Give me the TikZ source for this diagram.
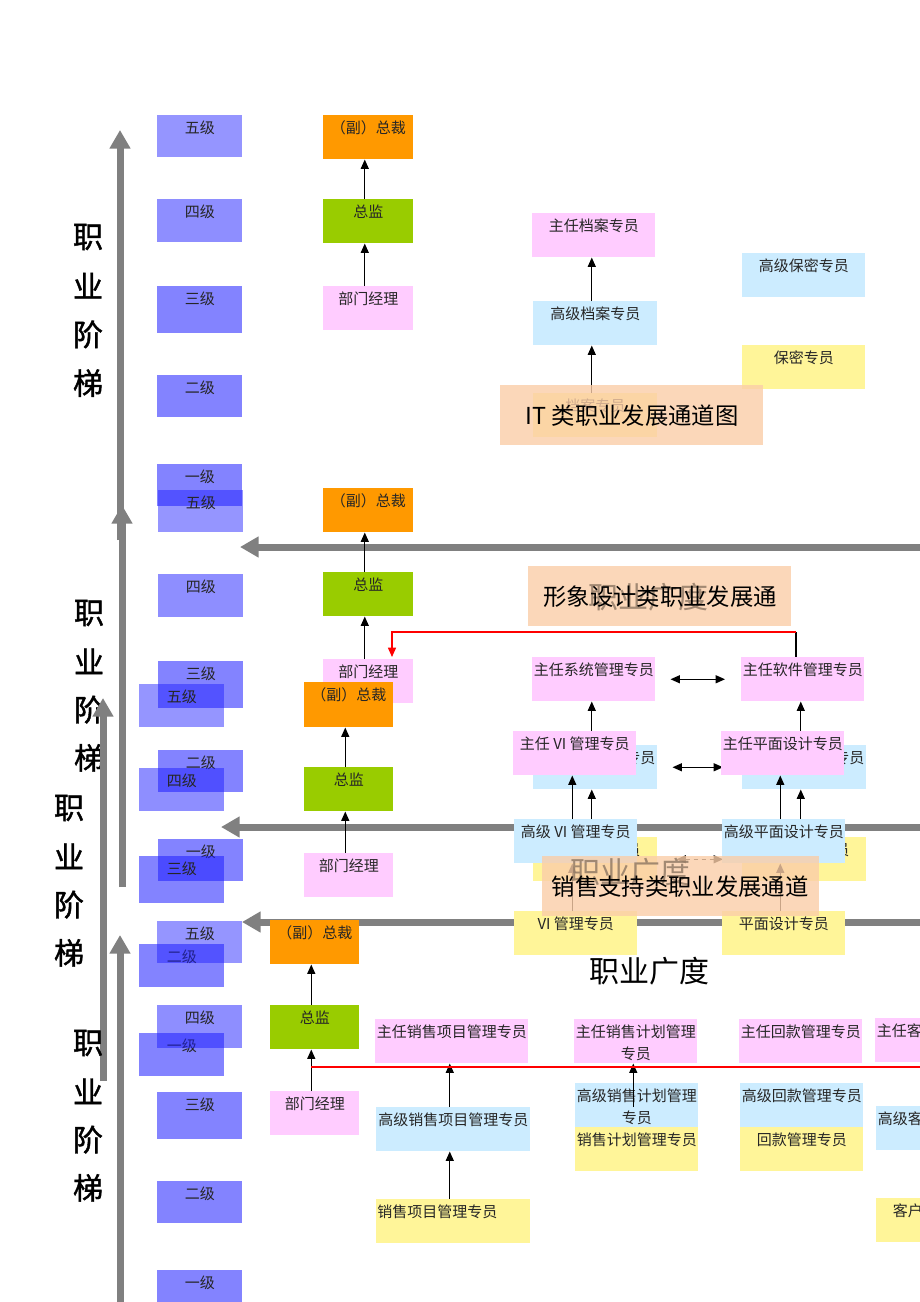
\documentclass[tikz,border=0pt]{standalone}
\usepackage{fontspec}
\setmainfont{Noto Sans CJK SC}
\newfontfamily\cjkbold[FakeBold=1.3]{Noto Sans CJK SC}
\usetikzlibrary{arrows.meta,calc}
\definecolor{lvl}{RGB}{30,30,255}
\definecolor{cpink}{RGB}{255,204,255}
\definecolor{cblue}{RGB}{204,236,255}
\definecolor{cyel}{RGB}{255,245,153}
\definecolor{corg}{RGB}{255,153,0}
\definecolor{cgrn}{RGB}{153,204,0}
\definecolor{cgray}{RGB}{128,128,128}
\definecolor{cbrown}{RGB}{140,118,98}
\definecolor{cpeach}{RGB}{250,205,168}
\tikzset{
  lbl/.style={inner sep=0pt, font=\fontsize{11.25}{15}\selectfont, text=black!85},
  vt/.style={inner sep=0pt, font=\cjkbold\fontsize{22.5}{26}\selectfont, text=black},
  ttl/.style={inner sep=0pt, font=\fontsize{17.5}{20}\selectfont, text=black},
  gd/.style={inner sep=0pt, font=\fontsize{22.5}{26}\selectfont},
  lvlbox/.style={fill=lvl, fill opacity=0.55, inner sep=0pt, draw=none},
  lvlfive/.style={lvlbox, fill opacity=0.47},
  lvlfour/.style={lvlbox, fill opacity=0.5},
  pinkbox/.style={fill=cpink, inner sep=0pt},
  bluebox/.style={fill=cblue, inner sep=0pt},
  yelbox/.style={fill=cyel, inner sep=0pt},
  orgbox/.style={fill=corg, inner sep=0pt},
  grnbox/.style={fill=cgrn, inner sep=0pt},
  tbox/.style={fill=cpeach, fill opacity=0.8, inner sep=0pt},
  arr/.style={draw=black, line width=0.9pt, -{Triangle[length=7pt,width=6pt]}},
  dbl/.style={draw=black, line width=0.9pt, {Triangle[length=7pt,width=6pt]}-{Triangle[length=7pt,width=6pt]}},
  redl/.style={draw=red, line width=1.1pt},
  bigarr/.style={draw=cgray, line width=5.25pt, -{Triangle[length=14pt,width=15pt]}},
}
% name, x1, y1, x2, y2, style, text
\newcommand\bx[7]{%
  \node[#6, anchor=north west, minimum width={(#4-#2)*0.75pt}, minimum height={(#5-#3)*0.75pt}] (#1) at (#2,#3) {};
  \node[lbl] (#1t) at ($(#1.north)+(0,12.5)$) {#7};
}
% title box: name, x1, y1, x2, y2
\newcommand\tb[5]{%
  \node[tbox, anchor=north west, minimum width={(#4-#2)*0.75pt}, minimum height={(#5-#3)*0.75pt}] (#1) at (#2,#3) {};
}
\newcommand\uparr[2]{%
  \coordinate (#1-up) at ($(#1.north)+(-3.5,0)$);
  \draw[arr] (#1-up) -- (#1-up |- #2.south);
}
\newcommand\vtext[4]{%
  \foreach \c [count=\i from 0] in {职,业,阶,梯}
    \node[vt] (#1-\i) at (#2,{#3+\i*#4}) {\c};
}
\begin{document}
\begin{tikzpicture}[x=0.75pt, y=-0.75pt]
\useasboundingbox (0,0) rectangle (920,1302);
\fill[white] (0,0) rectangle (920,1302);
\clip (0,0) rectangle (920,1302);

% ================= chart 1 =================
\coordinate (a1s) at (120,540);
\coordinate (a1e) at (120,130);
\draw[bigarr] (a1s) -- (a1e);
\coordinate (h1s) at (930,547);
\coordinate (h1e) at (240,547);
\draw[bigarr] (h1s) -- (h1e);
\vtext{v1}{88}{237}{48.7}
\bx{L1e}{157}{115}{242}{157}{lvlfive}{五级}
\bx{L1d}{157}{199}{242}{242}{lvlfour}{四级}
\bx{L1c}{157}{286}{242}{333}{lvlbox}{三级}
\bx{L1b}{157}{375}{242}{417}{lvlbox}{二级}
\bx{L1a}{157}{464}{242}{506}{lvlbox}{一级}
\bx{M1p}{323}{115}{413}{159}{orgbox}{（副）总裁}
\bx{M1d}{323}{199}{413}{243}{grnbox}{总监}
\bx{M1m}{323}{286}{413}{330}{pinkbox}{部门经理}
\uparr{M1m}{M1d}
\uparr{M1d}{M1p}
\bx{A1z}{532}{213}{655}{257}{pinkbox}{主任档案专员}
\bx{A1g}{533}{301}{657}{345}{bluebox}{高级档案专员}
\bx{A1b}{533}{393}{657}{437}{yelbox}{档案专员}
\bx{S1g}{742}{253}{865}{297}{bluebox}{高级保密专员}
\bx{S1b}{742}{345}{865}{389}{yelbox}{保密专员}
\uparr{A1b}{A1g}
\uparr{A1g}{A1z}

% ================= chart 2 =================
\coordinate (b2s) at (122,887);
\coordinate (b2e) at (122,505);
\draw[bigarr] (b2s) -- (b2e);
\coordinate (h2s) at (930,827);
\coordinate (h2e) at (221,827);
\draw[bigarr] (h2s) -- (h2e);
\vtext{v2}{89}{613}{48.3}
\bx{L2e}{158}{490}{243}{532}{lvlfive}{五级}
\bx{L2d}{158}{574}{243}{617}{lvlfour}{四级}
\bx{L2c}{158}{661}{243}{708}{lvlbox}{三级}
\bx{L2b}{158}{750}{243}{792}{lvlbox}{二级}
\bx{L2a}{158}{839}{243}{881}{lvlbox}{一级}
\bx{M2p}{323}{488}{413}{532}{orgbox}{（副）总裁}
\bx{M2d}{323}{572}{413}{616}{grnbox}{总监}
\bx{M2m}{323}{659}{413}{703}{pinkbox}{部门经理}
\uparr{M2m}{M2d}
\uparr{M2d}{M2p}
\tb{T2}{500}{385}{763}{445}
\node[ttl] (T2t) at (632,416) {IT 类职业发展通道图};
\bx{S2a}{532}{657}{655}{701}{pinkbox}{主任系统管理专员}
\bx{S2z}{741}{657}{864}{701}{pinkbox}{主任软件管理专员}
\bx{G2a}{533}{745}{657}{789}{bluebox}{高级系统管理专员}
\bx{G2z}{742}{745}{866}{789}{bluebox}{高级软件管理专员}
\bx{B2a}{533}{837}{657}{881}{yelbox}{系统管理专员}
\bx{B2z}{742}{837}{866}{881}{yelbox}{软件管理专员}
\uparr{B2a}{G2a}
\uparr{G2a}{S2a}
\uparr{B2z}{G2z}
\uparr{G2z}{S2z}
\draw[dbl] ($(S2a.east)+(15,0)$) -- ($(S2z.west)+(-16,0)$);
\draw[dbl] ($(G2a.east)+(15,0)$) -- ($(G2z.west)+(-19,0)$);
\draw[dbl, dashed] ($(B2a.east)+(19,0)$) -- ($(B2z.west)+(-19,0)$);
\coordinate (r2c) at (796,632);
\coordinate (r2t) at (392,657);
\draw[line width=0.9pt] (r2c) -- (r2c |- S2z.north);
\draw[redl, -{Triangle[length=7pt,width=6pt]}] (r2c) -| (r2t);

% ================= chart 3 =================
\coordinate (c3s) at (103,1081);
\coordinate (c3e) at (103,698);
\draw[bigarr] (c3s) -- (c3e);
\coordinate (h3s) at (930,922);
\coordinate (h3e) at (242,922);
\draw[bigarr] (h3s) -- (h3e);
\vtext{v3}{69}{808}{48.3}
\bx{L3e}{139}{684}{224}{727}{lvlfive}{五级}
\bx{L3d}{139}{768}{224}{811}{lvlfour}{四级}
\bx{L3c}{139}{856}{224}{903}{lvlbox}{三级}
\bx{L3b}{139}{944}{224}{987}{lvlbox}{二级}
\bx{L3a}{139}{1033}{224}{1076}{lvlbox}{一级}
\bx{M3p}{304}{682}{393}{727}{orgbox}{（副）总裁}
\bx{M3d}{304}{767}{393}{811}{grnbox}{总监}
\bx{M3m}{304}{853}{393}{897}{pinkbox}{部门经理}
\uparr{M3m}{M3d}
\uparr{M3d}{M3p}
\tb{T3}{528}{566}{791}{626}
\node[gd, text=cbrown, text opacity=0.8] (zy1) at (648,597) {职业广度};
\node[ttl] (T3t) at (660,597) {形象设计类职业发展通};
\bx{V3z}{513}{731}{636}{775}{pinkbox}{主任 VI 管理专员}
\bx{P3z}{721}{731}{844}{775}{pinkbox}{主任平面设计专员}
\bx{V3g}{514}{819}{637}{863}{bluebox}{高级 VI 管理专员}
\bx{P3g}{722}{819}{845}{863}{bluebox}{高级平面设计专员}
\bx{V3b}{514}{911}{637}{955}{yelbox}{VI 管理专员}
\bx{P3b}{722}{911}{845}{955}{yelbox}{平面设计专员}
\uparr{V3b}{V3g}
\uparr{V3g}{V3z}
\uparr{P3b}{P3g}
\uparr{P3g}{P3z}
\node[gd, text=black] (zy3) at (649,971) {职业广度};

% ================= chart 4 =================
\tb{T4}{542}{856}{819}{916}
\node[gd, text=cbrown, text opacity=0.8] (zy2) at (630,872) {职业广度};
\node[ttl] (T4t) at (680,887) {销售支持类职业发展通道};
\coordinate (d4s) at (120,1310);
\coordinate (d4e) at (120,935);
\draw[bigarr] (d4s) -- (d4e);
\vtext{v4}{88}{1043}{48.3}
\bx{L4e}{157}{921}{242}{963}{lvlfive}{五级}
\bx{L4d}{157}{1005}{242}{1048}{lvlfour}{四级}
\bx{L4c}{157}{1092}{242}{1139}{lvlbox}{三级}
\bx{L4b}{157}{1181}{242}{1223}{lvlbox}{二级}
\bx{L4a}{157}{1270}{242}{1312}{lvlbox}{一级}
\bx{M4p}{270}{920}{359}{964}{orgbox}{（副）总裁}
\bx{M4d}{270}{1005}{359}{1049}{grnbox}{总监}
\bx{M4m}{270}{1091}{359}{1135}{pinkbox}{部门经理}
\uparr{M4m}{M4d}
\uparr{M4d}{M4p}
\bx{X4z}{375}{1019}{528}{1063}{pinkbox}{主任销售项目管理专员}
\bx{X4g}{376}{1107}{530}{1151}{bluebox}{高级销售项目管理专员}
\bx{X4b}{376}{1199}{530}{1243}{yelbox}{}
\node[lbl, anchor=west] (X4bt2) at ($(X4b.north west)+(1,12.5)$) {销售项目管理专员};
\uparr{X4b}{X4g}
\uparr{X4g}{X4z}
\bx{J4z}{574}{1019}{697}{1063}{pinkbox}{主任销售计划管理}
\node[lbl] (J4zt2) at ($(J4z.north)+(0,35)$) {专员};
\bx{J4g}{575}{1083}{698}{1127}{bluebox}{高级销售计划管理}
\node[lbl] (J4gt2) at ($(J4g.north)+(0,35)$) {专员};
\bx{J4b}{575}{1127}{698}{1171}{yelbox}{销售计划管理专员}
\coordinate (J4a) at ($(J4g.north)+(-3.5,24)$);
\draw[arr] (J4a) -- (J4a |- J4z.south);
\bx{H4z}{739}{1019}{862}{1063}{pinkbox}{主任回款管理专员}
\bx{H4g}{740}{1083}{863}{1127}{bluebox}{高级回款管理专员}
\bx{H4b}{740}{1127}{863}{1171}{yelbox}{回款管理专员}
\bx{K4z}{875}{1018}{998}{1062}{pinkbox}{主任客户管理专员}
\bx{K4g}{876}{1106}{999}{1150}{bluebox}{高级客户管理专员}
\bx{K4b}{876}{1198}{999}{1242}{yelbox}{客户管理专员}
\coordinate (r4e) at (930,1067);
\draw[redl] (M4m-up |- r4e) -- (r4e);
\end{tikzpicture}
\end{document}
